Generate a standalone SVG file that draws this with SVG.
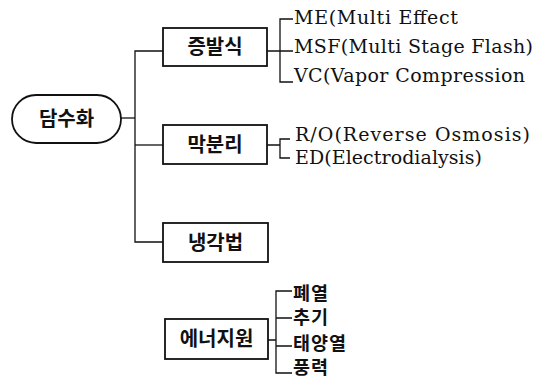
<svg xmlns="http://www.w3.org/2000/svg" width="549" height="387" viewBox="0 0 549 387">
<style>
.box{fill:#fff;stroke:#111;stroke-width:1.8}
.ln{fill:none;stroke:#111;stroke-width:1.3}
.ko{font-family:"Noto Sans CJK KR","Noto Sans",sans-serif;font-size:20px;font-weight:600;fill:#111}
.ki{font-family:"Noto Sans CJK KR","Noto Sans",sans-serif;font-size:18.5px;font-weight:600;letter-spacing:1px;fill:#111}
.en{font-family:"DejaVu Serif","Liberation Serif",serif;font-size:19px;fill:#111}
</style>
<rect width="549" height="387" fill="#fff"/>
<g id="connectors">
<path class="ln" d="M121,118 H135"/>
<path class="ln" d="M163,51 H135 V242 H163"/>
<path class="ln" d="M135,145 H163"/>
<path class="ln" d="M267,51 H293 M293,19 H280 V82 H293"/>
<path class="ln" d="M267,145 H280 M290,139 H280 V158 H290"/>
<path class="ln" d="M268,340 H276 M292,291 H276 V373 H292 M276,318 H292 M276,346 H292"/>
</g>
<g id="desal">
<rect class="box" x="12" y="95" width="109" height="48" rx="24" ry="24"/>
<text class="ko" x="66.5" y="126" text-anchor="middle">담수화</text>
</g>
<g id="evap">
<rect class="box" x="163" y="28" width="104" height="38"/>
<text class="ko" x="215" y="54" text-anchor="middle">증발식</text>
</g>
<g id="membrane">
<rect class="box" x="163" y="125" width="104" height="39"/>
<text class="ko" x="215" y="151.5" text-anchor="middle">막분리</text>
</g>
<g id="freeze">
<rect class="box" x="163" y="223" width="105" height="39"/>
<text class="ko" x="215.5" y="249.5" text-anchor="middle">냉각법</text>
</g>
<g id="energy">
<rect class="box" x="165" y="319" width="103" height="40"/>
<text class="ko" x="216.5" y="346" text-anchor="middle">에너지원</text>
</g>
<g id="evap-items">
<text class="en" x="294" y="24" textLength="164">ME(Multi Effect</text>
<text class="en" x="294" y="53" textLength="239">MSF(Multi Stage Flash)</text>
<text class="en" x="294" y="82" textLength="231">VC(Vapor Compression</text>
</g>
<g id="membrane-items">
<text class="en" x="295" y="141" textLength="235">R/O(Reverse Osmosis)</text>
<text class="en" x="295" y="164" textLength="187">ED(Electrodialysis)</text>
</g>
<g id="energy-items">
<text class="ki" x="293" y="299.5">폐열</text>
<text class="ki" x="293" y="324">추기</text>
<text class="ki" x="293" y="349.5">태양열</text>
<text class="ki" x="293" y="374">풍력</text>
</g>
</svg>
